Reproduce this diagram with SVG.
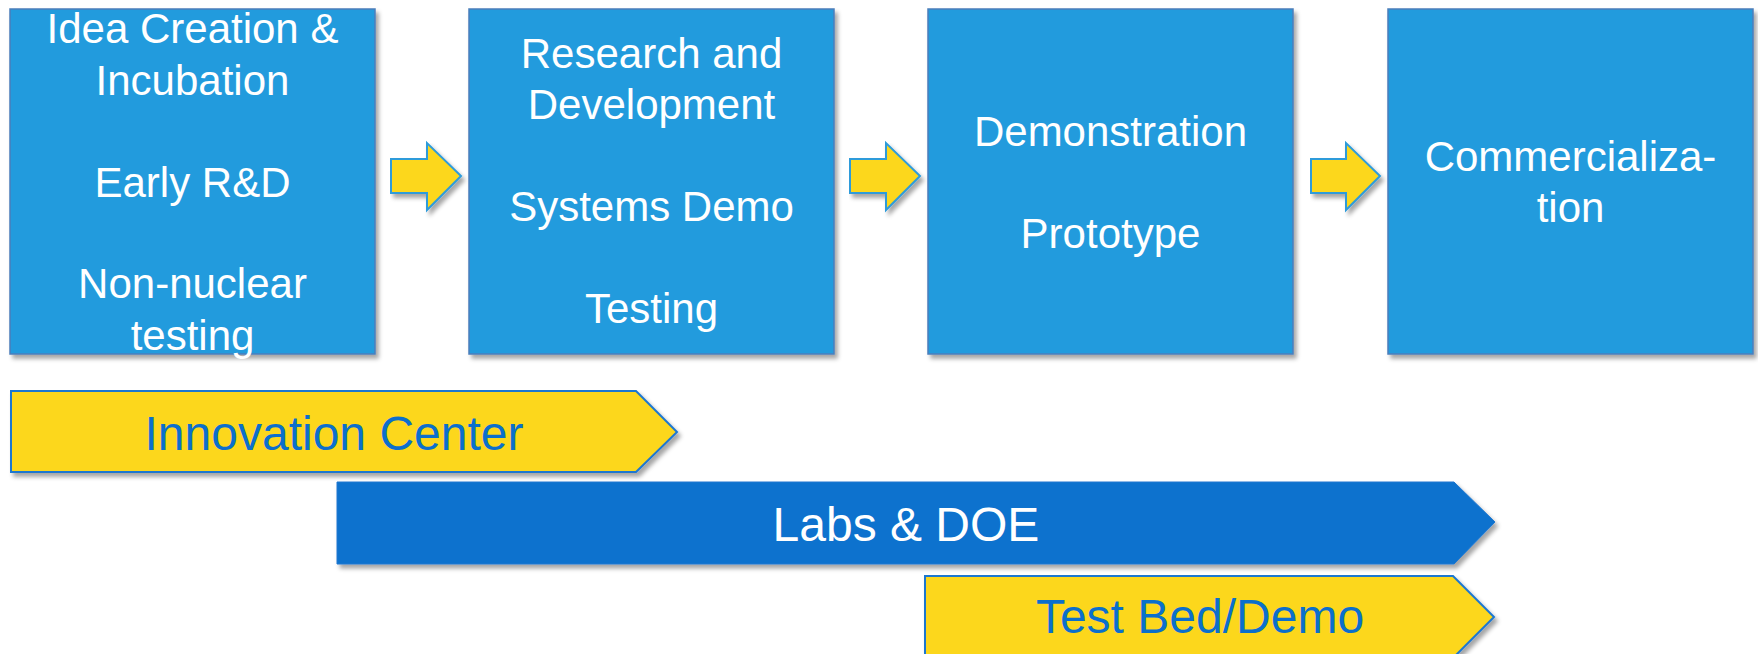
<svg xmlns="http://www.w3.org/2000/svg" width="1758" height="654" viewBox="0 0 1758 654">
<defs>
<filter id="sh" x="-5%" y="-5%" width="115%" height="120%">
<feGaussianBlur in="SourceAlpha" stdDeviation="2"/>
<feOffset dx="3" dy="4" result="o"/>
<feFlood flood-color="#000" flood-opacity="0.35"/>
<feComposite in2="o" operator="in"/>
<feMerge><feMergeNode/><feMergeNode in="SourceGraphic"/></feMerge>
</filter>
<style>
.box{fill:#229BDD;stroke:#4A7EBB;stroke-width:1.5;filter:url(#sh)}
.bt{font-family:"Liberation Sans",Arial,sans-serif;font-size:42px;fill:#fff;text-anchor:middle}
.arr{fill:#FCD71B;stroke:#2E9BDA;stroke-width:2;filter:url(#sh)}
.ban{fill:#FCD71B;stroke:#1F77D0;stroke-width:2;filter:url(#sh)}
.banb{fill:#0B72CE;stroke:#1F77D0;stroke-width:1;filter:url(#sh)}
.yt{font-family:"Liberation Sans",Arial,sans-serif;font-size:48px;fill:#0B6FCC;text-anchor:middle}
.wt{font-family:"Liberation Sans",Arial,sans-serif;font-size:48px;fill:#fff;text-anchor:middle}
</style>
</defs>
<g id="box1">
<rect class="box" x="10" y="9" width="365" height="345"/>
<text class="bt"><tspan x="192.5" y="43">Idea Creation &amp;</tspan><tspan x="192.5" y="95">Incubation</tspan><tspan x="192.5" y="197">Early R&amp;D</tspan><tspan x="192.5" y="298">Non-nuclear</tspan><tspan x="192.5" y="350">testing</tspan></text>
</g>
<g id="box2">
<rect class="box" x="469" y="9" width="365" height="345"/>
<text class="bt"><tspan x="651.5" y="68">Research and</tspan><tspan x="651.5" y="119">Development</tspan><tspan x="651.5" y="221">Systems Demo</tspan><tspan x="651.5" y="323">Testing</tspan></text>
</g>
<g id="box3">
<rect class="box" x="928" y="9" width="365" height="345"/>
<text class="bt"><tspan x="1110.5" y="146">Demonstration</tspan><tspan x="1110.5" y="248">Prototype</tspan></text>
</g>
<g id="box4">
<rect class="box" x="1388" y="9" width="365" height="345"/>
<text class="bt"><tspan x="1570.5" y="171">Commercializa-</tspan><tspan x="1570.5" y="222">tion</tspan></text>
</g>
<g id="connectors">
<path class="arr" d="M391 159 H427 V143 L461 176 L427 210 V193 H391 Z"/>
<path class="arr" d="M850 159 H886 V143 L920 176 L886 210 V193 H850 Z"/>
<path class="arr" d="M1311 159 H1346 V143 L1380 176 L1346 210 V193 H1311 Z"/>
</g>
<g id="innovation">
<path class="ban" d="M11 391 H636 L677 432 L636 472 H11 Z"/>
<text class="yt" x="334" y="450">Innovation Center</text>
</g>
<g id="labs">
<path class="banb" d="M337 482 H1454 L1495 522 L1454 564 H337 Z"/>
<text class="wt" x="906" y="541">Labs &amp; DOE</text>
</g>
<g id="testbed">
<path class="ban" d="M925 576 H1453 L1494 617 L1453 658 H925 Z"/>
<text class="yt" x="1200" y="633">Test Bed/Demo</text>
</g>
</svg>
